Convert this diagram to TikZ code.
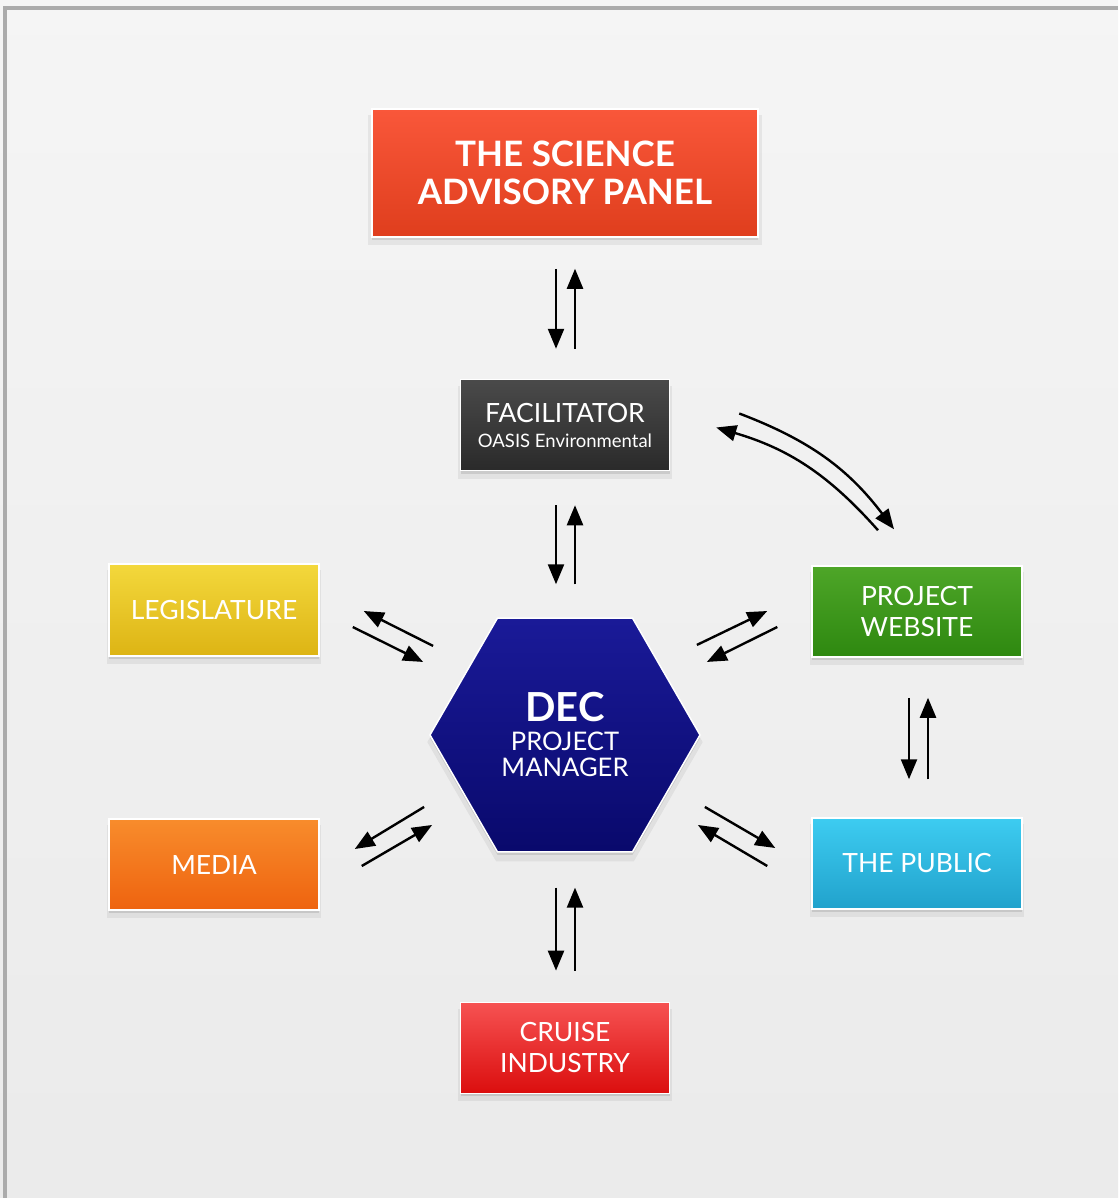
\documentclass[tikz,border=0pt]{standalone}
\usepackage{fontspec}
\setmainfont{Lato}
\usetikzlibrary{calc, positioning, arrows.meta, shapes.geometric, shadows}

\definecolor{frame}{HTML}{ABABAB}
\definecolor{sciTop}{HTML}{F9573A}
\definecolor{sciBot}{HTML}{DF3E1D}
\definecolor{facTop}{HTML}{4A4A4A}
\definecolor{facBot}{HTML}{2A2A2A}
\definecolor{legTop}{HTML}{F3D83C}
\definecolor{legBot}{HTML}{DDB414}
\definecolor{webTop}{HTML}{4EA628}
\definecolor{webBot}{HTML}{2E8810}
\definecolor{decTop}{HTML}{1A1A98}
\definecolor{decBot}{HTML}{09096C}
\definecolor{medTop}{HTML}{F88C2C}
\definecolor{medBot}{HTML}{EE630F}
\definecolor{pubTop}{HTML}{3DCCF1}
\definecolor{pubBot}{HTML}{21A2CC}
\definecolor{cruTop}{HTML}{F65252}
\definecolor{cruBot}{HTML}{DB0E0E}

\begin{document}
\begin{tikzpicture}
		[x=1pt, y=-1pt, node distance=141pt,
		 shade/.style={drop shadow={shadow xshift=0pt, shadow yshift=-3pt, opacity=0.10, fill=black},
		   drop shadow={shadow xshift=0pt, shadow yshift=-7pt, shadow scale=1.02, opacity=0.06, fill=black}},
		 box/.style={rectangle, draw=white, line width=1.5pt, text=white, align=center, inner sep=0pt, shade},
		 lbl/.style={font=\fontsize{26.5}{31}\selectfont},
		 arr/.style={-{Triangle[length=20pt, width=16pt]}, line width=2.4pt, black}]
		\useasboundingbox (0,0) rectangle (1118,1198);
		% background %
		\fill[top color=white!96!black, bottom color=white!92!black] (0,0) rectangle (1118,1198);
		\draw[line width=4pt, frame] (5,1198) -- (5,8) -- (1118,8);

		% nodes %
		\node[box, top color=sciTop, bottom color=sciBot, minimum width=386pt, minimum height=128pt,
		  font=\fontsize{35}{38}\selectfont\bfseries] (sci) at (565,173) {THE SCIENCE\\ADVISORY PANEL};
		\node[box, top color=facTop, bottom color=facBot, minimum width=209pt, minimum height=91pt,
		  font=\fontsize{18.5}{20}\selectfont, below=of sci] (fac) {{\fontsize{26.5}{28}\selectfont FACILITATOR}\\[5pt]OASIS Environmental};
		\node[regular polygon, regular polygon sides=6, minimum size=270pt, inner sep=0pt,
		  draw=white, line width=1.5pt, text=white, align=center, top color=decTop, bottom color=decBot, shade,
		  font=\fontsize{25.6}{26}\selectfont, below=146pt of fac] (dec) {{\fontsize{40}{36}\selectfont\bfseries DEC}\\[3pt]PROJECT\\MANAGER};
		\node[box, lbl, top color=cruTop, bottom color=cruBot, minimum width=209pt, minimum height=91pt,
		  below=149pt of dec] (cru) {CRUISE\\INDUSTRY};
		\node[box, lbl, top color=legTop, bottom color=legBot, minimum width=210pt, minimum height=92pt] (leg) at (214,610) {LEGISLATURE};
		\node[box, lbl, top color=medTop, bottom color=medBot, minimum width=210pt, minimum height=91pt] (med) at (214,864.5) {MEDIA};
		\node[box, lbl, top color=webTop, bottom color=webBot, minimum width=210pt, minimum height=91pt] (web) at (917,611.5) {PROJECT\\WEBSITE};
		\node[box, lbl, top color=pubTop, bottom color=pubBot, minimum width=210pt, minimum height=91pt] (pub) at (917,863.5) {THE PUBLIC};

		% edges %
		\draw[arr, shorten <=31pt, shorten >=30pt] ([xshift=-9pt]sci.south) -- ([xshift=-9pt]fac.north);
		\draw[arr, shorten <=30pt, shorten >=31pt] ([xshift=10pt]fac.north) -- ([xshift=10pt]sci.south);
		\draw[arr, shorten <=34pt, shorten >=33pt] ([xshift=-9pt]fac.south) -- ([xshift=-9pt]dec.north);
		\draw[arr, shorten <=33pt, shorten >=34pt] ([xshift=10pt]dec.north) -- ([xshift=10pt]fac.south);
		\draw[arr, shorten <=35pt, shorten >=31pt] ([xshift=-9pt]dec.south) -- ([xshift=-9pt]cru.north);
		\draw[arr, shorten <=31pt, shorten >=35pt] ([xshift=10pt]cru.north) -- ([xshift=10pt]dec.south);
		\draw[arr, shorten <=40pt, shorten >=38pt] ([xshift=-8pt]web.south) -- ([xshift=-8pt]pub.north);
		\draw[arr, shorten <=38pt, shorten >=40pt] ([xshift=11pt]pub.north) -- ([xshift=11pt]web.south);
		\draw[arr] ([shift={(4,-89)}]dec.west) -- ([shift={(44,1)}]leg.east);
		\draw[arr] ([shift={(33,17)}]leg.east) -- ([shift={(-6,-73)}]dec.west);
		\draw[arr] ([shift={(-5,72)}]dec.west) -- ([shift={(35,-15.5)}]med.east);
		\draw[arr] ([shift={(42,1.5)}]med.east) -- ([shift={(3,90)}]dec.west);
		\draw[arr] ([shift={(-4,-90)}]dec.east) -- ([shift={(-44,-0.5)}]web.west);
		\draw[arr] ([shift={(-34,15.5)}]web.west) -- ([shift={(6,-73)}]dec.east);
		\draw[arr] ([shift={(4,72)}]dec.east) -- ([shift={(-36,-15.5)}]pub.west);
		\draw[arr] ([shift={(-44,2.5)}]pub.west) -- ([shift={(-3,90)}]dec.east);
		\draw[arr] ([shift={(69,-11.5)}]fac.east) to[bend left=16] ([shift={(-23,-36)}]web.north);
		\draw[arr] ([shift={(-39,-35)}]web.north) to[bend right=16] ([shift={(46,2.5)}]fac.east);
\end{tikzpicture}
\end{document}
